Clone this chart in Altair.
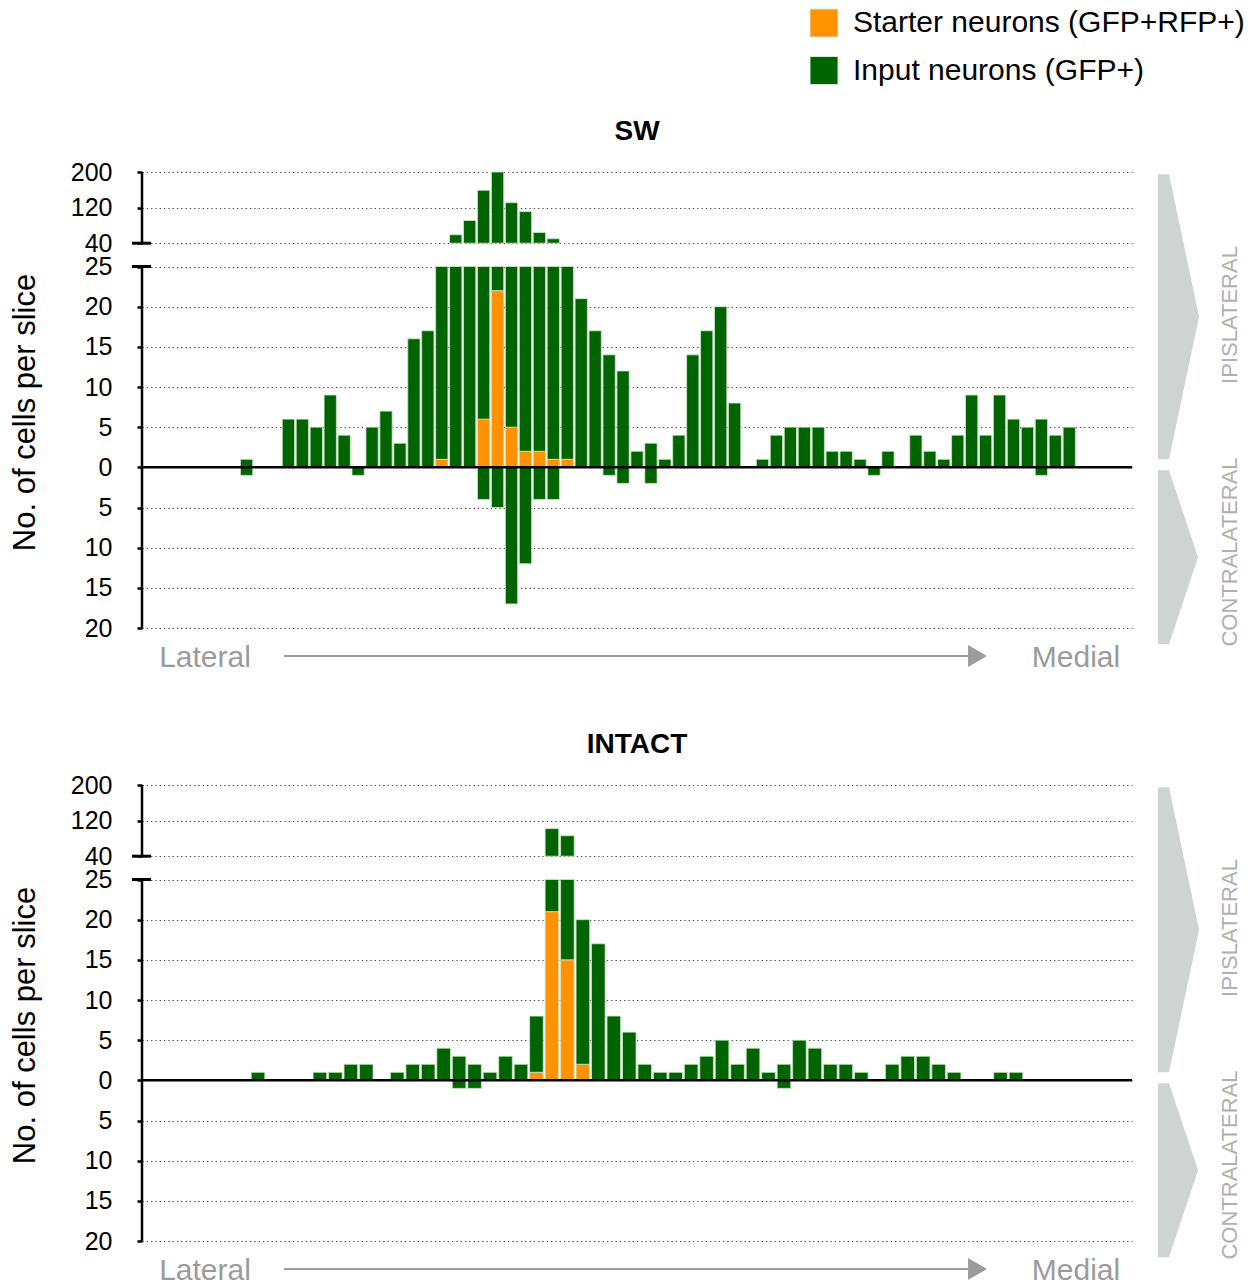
import altair as alt
import pandas as pd

FONT = "Liberation Sans"
GREEN = "#006400"
ORANGE = "#ff9200"
GREY = "#9b9b9b"
KINDS = ["Starter neurons (GFP+RFP+)", "Input neurons (GFP+)"]

# ---- data (cells per slice, lateral -> medial) ----
sw_ipsi = [0, 0, 0, 0, 0, 0, 0, 1, 0, 0,
           6, 6, 5, 9, 4, 0, 5, 7, 3, 16,
           17, 30, 59, 91, 159, 200, 131, 111, 64, 50,
           30, 21, 17, 14, 12, 2, 3, 1, 4, 14,
           17, 20, 8, 0, 1, 4, 5, 5, 5, 2,
           2, 1, 0, 2, 0, 4, 2, 1, 4, 9,
           4, 9, 6, 5, 6, 4, 5, 0, 0, 0,
           0]
sw_starter = [0] * 21 + [1, 0, 0, 6, 22, 5, 2, 2, 1, 1] + [0] * 40
sw_contra = [0, 0, 0, 0, 0, 0, 0, 1, 0, 0,
             0, 0, 0, 0, 0, 1, 0, 0, 0, 0,
             0, 0, 0, 0, 4, 5, 17, 12, 4, 4,
             0, 0, 0, 1, 2, 0, 2, 0, 0, 0,
             0, 0, 0, 0, 0, 0, 0, 0, 0, 0,
             0, 0, 1, 0, 0, 0, 0, 0, 0, 0,
             0, 0, 0, 0, 1, 0, 0, 0, 0, 0,
             0]

intact_ipsi = [0, 0, 0, 0, 0, 0, 0, 1, 0, 0,
               0, 1, 1, 2, 2, 0, 1, 2, 2, 4,
               3, 2, 1, 3, 2, 8, 102, 86, 20, 17,
               8, 6, 2, 1, 1, 2, 3, 5, 2, 4,
               1, 2, 5, 4, 2, 2, 1, 0, 2, 3,
               3, 2, 1, 0, 0, 1, 1, 0, 0, 0,
               0, 0, 0, 0]
intact_starter = [0] * 25 + [1, 21, 15, 2] + [0] * 35
intact_contra = [0] * 20 + [1, 1] + [0] * 19 + [1] + [0] * 22

lower_ticks = [-20, -15, -10, -5, 0, 5, 10, 15, 20, 25]
upper_ticks = [40, 120, 200]
LOW_TOP = 25      # top of the lower (linear) segment
UP_BASE = 40      # bottom of the upper (compressed) segment

W, H = 990, 456

YAXIS = alt.Axis(values=lower_ticks + upper_ticks,
                 labelExpr="'' + abs(datum.value)", labelOverlap=False,
                 domain=False, tickSize=5, tickWidth=2.5, tickColor="black",
                 labelFontSize=25, labelFont=FONT, labelColor="black", labelPadding=25,
                 grid=True, gridDash=[1.3, 3], gridColor="#444444", gridWidth=1,
                 title="No. of cells per slice", titleFontSize=31, titleFont=FONT,
                 titleFontWeight="normal", titleColor="black", titlePadding=29,
                 titleY=240)

LEGEND = alt.Legend(orient="none", legendX=667, legendY=-164, direction="vertical",
                    title=None, symbolType="square", symbolSize=784,
                    symbolStrokeColor="#d8ead4", symbolStrokeWidth=1,
                    labelFontSize=30, labelFont=FONT, labelColor="black",
                    labelOffset=14, rowPadding=15.5, padding=0, labelLimit=600)


def make_rows(ipsi, starter, contra):
    rows = []
    for i, (t, s, c) in enumerate(zip(ipsi, starter, contra)):
        if s > 0:
            rows.append({"slot": i, "lo": 0, "hi": s, "kind": KINDS[0]})
        if t > s:
            rows.append({"slot": i, "lo": s, "hi": min(t, LOW_TOP), "kind": KINDS[1]})
        if t > UP_BASE:
            rows.append({"slot": i, "lo": UP_BASE, "hi": t, "kind": KINDS[1]})
        if c > 0:
            rows.append({"slot": i, "lo": -c, "hi": 0, "kind": KINDS[1]})
    return pd.DataFrame(rows)


def block(name, ipsi, starter, contra):
    n = len(ipsi)
    df = make_rows(ipsi, starter, contra)
    yscale = alt.Scale(domain=[lower_ticks[0], LOW_TOP, UP_BASE, upper_ticks[-1]],
                       range=[H, 94.5, 71.2, 0], nice=False, zero=False)
    bars = alt.Chart(df).mark_bar(stroke="#cfe6c9", strokeWidth=0.8).encode(
        x=alt.X("slot:O", scale=alt.Scale(domain=list(range(n)), paddingInner=0.12,
                                          paddingOuter=0.06), axis=None),
        y=alt.Y("lo:Q", scale=yscale, axis=YAXIS),
        y2="hi:Q",
        color=alt.Color("kind:N", scale=alt.Scale(domain=KINDS, range=[ORANGE, GREEN]),
                        legend=LEGEND),
    )
    zero = alt.Chart(pd.DataFrame({"lo": [0]})).mark_rule(color="black", strokeWidth=2.5).encode(
        y=alt.Y("lo:Q", axis=YAXIS), x=alt.value(0), x2=alt.value(W))
    axis_df = pd.DataFrame({"lo": [lower_ticks[0], upper_ticks[0]],
                            "hi": [lower_ticks[-1], upper_ticks[-1]]})
    axis_line = alt.Chart(axis_df).mark_rule(color="black", strokeWidth=2.5).encode(
        x=alt.value(0), y=alt.Y("lo:Q", axis=YAXIS), y2="hi:Q")
    breaks = alt.Chart(pd.DataFrame({"lo": [LOW_TOP, UP_BASE]})).mark_rule(
        color="black", strokeWidth=3).encode(
        x=alt.value(-10), x2=alt.value(9), y=alt.Y("lo:Q", axis=YAXIS))

    one = pd.DataFrame({"k": [0]})
    arrow = alt.Chart(one).mark_rule(color=GREY, strokeWidth=2).encode(
        x=alt.value(142), x2=alt.value(828), y=alt.value(484))
    head = alt.Chart(one).mark_point(shape="M-0.86,-1L0.86,0L-0.86,1Z", filled=True,
                                     fill=GREY, opacity=1, size=484, strokeWidth=0).encode(
        x=alt.value(835.5), y=alt.value(484))
    lateral = alt.Chart(one).mark_text(text="Lateral", font=FONT, fontSize=30, color=GREY,
                                       align="center", baseline="alphabetic").encode(
        x=alt.value(63), y=alt.value(495))
    medial = alt.Chart(one).mark_text(text="Medial", font=FONT, fontSize=30, color=GREY,
                                      align="center", baseline="alphabetic").encode(
        x=alt.value(934), y=alt.value(495))
    chev_ipsi = alt.Chart(one).mark_point(shape="M0,-1L0.0772,-1L0.288,0L0.0772,1L0,1Z",
                                          filled=True, fill="#cfd4d3", opacity=1,
                                          size=81225, strokeWidth=0).encode(
        x=alt.value(1016), y=alt.value(144.8))
    chev_contra = alt.Chart(one).mark_point(shape="M0,-1L0.126,-1L0.46,0L0.126,1L0,1Z",
                                            filled=True, fill="#cfd4d3", opacity=1,
                                            size=30276, strokeWidth=0).encode(
        x=alt.value(1016), y=alt.value(385.3))
    ipsi_txt = alt.Chart(one).mark_text(text="IPISLATERAL", font=FONT, fontSize=22,
                                        color="#b0b0b0", angle=270, align="center",
                                        baseline="middle").encode(
        x=alt.value(1088), y=alt.value(143))
    contra_txt = alt.Chart(one).mark_text(text="CONTRALATERAL", font=FONT, fontSize=22,
                                          color="#b0b0b0", angle=270, align="center",
                                          baseline="middle").encode(
        x=alt.value(1088), y=alt.value(380))

    return alt.layer(bars, zero, axis_line, breaks, arrow, head, lateral, medial,
                     chev_ipsi, chev_contra, ipsi_txt, contra_txt).properties(
        width=W, height=H,
        title=alt.TitleParams(name, font=FONT, fontSize=28, fontWeight="bold", color="black",
                              frame="group", anchor="middle", baseline="alphabetic",
                              offset=-7.5),
    )


sw = block("SW", sw_ipsi, sw_starter, sw_contra)
intact = block("INTACT", intact_ipsi, intact_starter, intact_contra)

chart = alt.vconcat(sw, intact, spacing=157, bounds="flush").resolve_scale(
    x="independent", y="independent"
).configure_view(stroke=None).properties(
    padding={"left": 1, "top": 0, "right": 3, "bottom": 0}
)

chart.save("out.html", embed_options={"renderer": "svg", "actions": False})
